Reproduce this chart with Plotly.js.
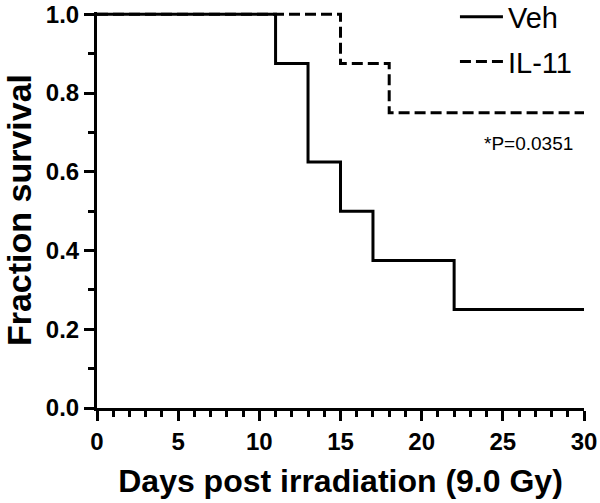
<!DOCTYPE html>
<html><head><meta charset="utf-8">
<script src="https://cdn.plot.ly/plotly-3.0.1.min.js"></script>
<style>body{margin:0;background:#fff}</style>
</head><body><div id="chart" style="width:600px;height:503px"></div>
<script>
const vehDays = [0, 11, 13, 15, 17, 22, 30];
const vehSurvival = [1.0, 0.875, 0.625, 0.5, 0.375, 0.25, 0.25];
const il11Days = [0, 15, 18, 30];
const il11Survival = [1.0, 0.875, 0.75, 0.75];
const seriesNames = ['Veh', 'IL-11'];
const xTitle = 'Days post irradiation (9.0 Gy)';
const yTitle = 'Fraction survival';
const pValueText = '*P=0.0351';

const FONT = 'Liberation Sans, Arial, Helvetica, sans-serif';

const traces = [
  {x: vehDays, y: vehSurvival, name: seriesNames[0], mode: 'lines',
   line: {shape: 'hv', color: '#000', width: 3}, legendgroup: 'a'},
  {x: il11Days, y: il11Survival, name: seriesNames[1], mode: 'lines',
   line: {shape: 'hv', color: '#000', width: 3, dash: '11px,5px'}, legendgroup: 'b'}
];

const axisCommon = {
  showgrid: false, zeroline: false, showline: true, linecolor: '#000', linewidth: 3,
  ticks: 'outside', ticklen: 10, tickwidth: 3, tickcolor: '#000',
  tickfont: {family: FONT, size: 24, color: '#000', weight: 'bold'}
};

const layout = {
  width: 600, height: 503,
  margin: {l: 97, r: 16, t: 12, b: 95, autoexpand: false},
  paper_bgcolor: '#fff', plot_bgcolor: '#fff',
  showlegend: true,
  legend: {x: 0.735, y: 1.052, xanchor: 'left', yanchor: 'top',
    font: {family: FONT, size: 29, color: '#000'}, bgcolor: 'rgba(0,0,0,0)',
    itemwidth: 43, tracegroupgap: 4},
  xaxis: Object.assign({}, axisCommon, {
    range: [0, 30], dtick: 5, tick0: 0,
    minor: {dtick: 1, ticks: 'outside', ticklen: 6, tickwidth: 3, tickcolor: '#000'},
    title: {text: xTitle, font: {family: FONT, size: 32, color: '#000', weight: 'bold'}, standoff: 16}
  }),
  yaxis: Object.assign({}, axisCommon, {
    range: [0, 1.006], dtick: 0.2, tick0: 0, tickformat: '.1f',
    minor: {dtick: 0.1, ticks: 'outside', ticklen: 6, tickwidth: 3, tickcolor: '#000'},
    title: {text: yTitle, font: {family: FONT, size: 34, color: '#000', weight: 'bold'}, standoff: 11}
  }),
  annotations: [{x: 26.6, y: 0.672, xref: 'x', yref: 'y', text: pValueText, showarrow: false,
    font: {family: FONT, size: 19, color: '#000'}}]
};

Plotly.newPlot('chart', traces, layout, {staticPlot: true});
</script></body></html>
